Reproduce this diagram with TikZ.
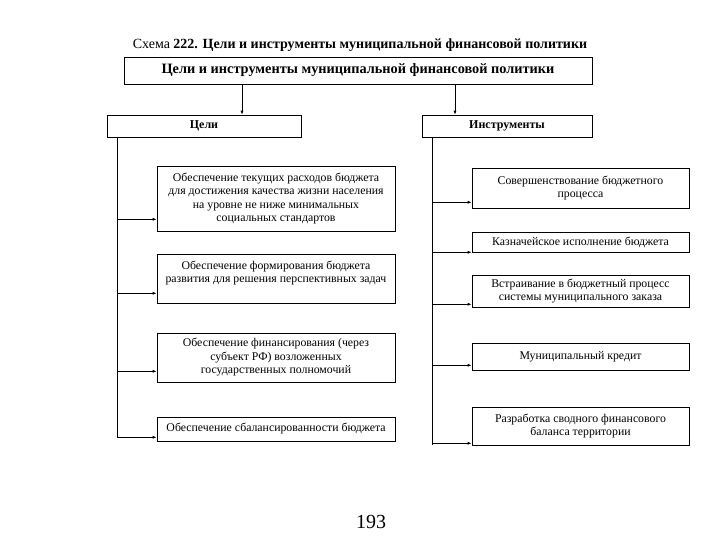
\documentclass[tikz,border=0pt]{standalone}
\usepackage{fontspec}
\setmainfont{Liberation Serif}
\usetikzlibrary{arrows.meta,positioning}
\tikzset{
  box/.style={draw,line width=0.6pt,align=center,inner sep=2pt,font=\fontsize{11.8}{13.5}\selectfont},
  headbox/.style={box,font=\bfseries\fontsize{12}{13}\selectfont,minimum height=22},
  goalbox/.style={box,minimum width=238},
  toolbox/.style={box,minimum width=217},
  arr/.style={-{Latex[length=4pt,width=3pt]},line width=0.7pt},
}
\begin{document}
\begin{tikzpicture}[x=1pt,y=-1pt]
  \useasboundingbox (0,0) rectangle (720,540);
  % title and top box
  \node[font=\fontsize{14}{16}\selectfont] (title) at (360,45) {Схема \textbf{222. Цели и инструменты муниципальной финансовой политики}};
  \node[headbox,minimum width=468,minimum height=27,font=\bfseries\fontsize{14.3}{16}\selectfont] (top) at (358,70.5) {Цели и инструменты муниципальной финансовой политики};
  \node[headbox,minimum width=194] (goals) at (204,126) {Цели};
  \node[headbox,minimum width=170] (tools) at (507,126) {Инструменты};
  \draw[arr] (top.south -| 242,0) -- (goals.north -| 242,0);
  \draw[arr] (top.south -| 455,0) -- (tools.north -| 455,0);
  % goals
  \node[goalbox,minimum height=65] (g1) at (276,198.5) {Обеспечение текущих расходов бюджета\\ для достижения качества жизни населения\\ на уровне не ниже минимальных\\ социальных стандартов};
  \node[goalbox,minimum height=49] (g2) at (276,278.5) {Обеспечение формирования бюджета\\ развития для решения перспективных задач\\ ~};
  \node[goalbox,minimum height=49] (g3) at (276,357.5) {Обеспечение финансирования (через\\ субъект РФ) возложенных\\ государственных полномочий};
  \node[goalbox,minimum height=24] (g4) at (276,429) {Обеспечение сбалансированности бюджета};
  % tools
  \node[toolbox,minimum height=40] (i1) at (580.5,188) {Совершенствование бюджетного\\ процесса};
  \node[toolbox,minimum height=20] (i2) at (580.5,242) {Казначейское исполнение бюджета};
  \node[toolbox,minimum height=32] (i3) at (580.5,291) {Встраивание в бюджетный процесс\\ системы муниципального заказа};
  \node[toolbox,minimum height=27] (i4) at (580.5,356.5) {Муниципальный кредит};
  \node[toolbox,minimum height=38] (i5) at (580.5,426) {Разработка сводного финансового\\ баланса территории};
  % buses
  \coordinate (lbus) at ([xshift=11pt]goals.south west);
  \coordinate (rbus) at ([xshift=11pt]tools.south west);
  \foreach \n/\d in {g1/12,g2/10,g3/11,g4/4}{
    \path ([yshift=\d pt]\n.south west) coordinate (t);
    \draw[arr] (lbus |- t) -- (t);
  }
  \foreach \n/\d in {i1/6,i2/0,i3/3,i4/5,i5/2}{
    \path ([yshift=\d pt]\n.south west) coordinate (t);
    \draw[arr] (rbus |- t) -- (t);
  }
  \draw[line width=0.7pt] (lbus) -- (lbus |- 0,438);
  \draw[line width=0.7pt] (rbus) -- (rbus |- 0,445);
  % page number
  \node[font=\fontsize{20}{22}\selectfont] (page) at (371,522) {193};
\end{tikzpicture}
\end{document}
